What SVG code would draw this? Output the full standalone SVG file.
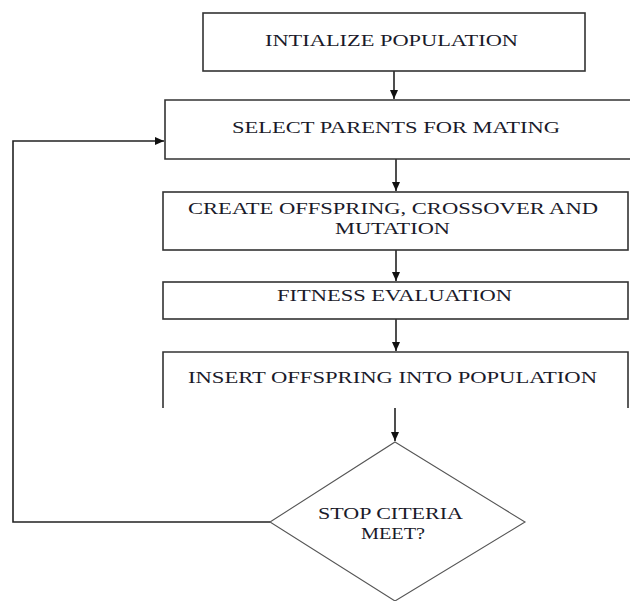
<svg xmlns="http://www.w3.org/2000/svg" width="630" height="601" viewBox="0 0 630 601">
<style>
.box{fill:#fff;stroke:#333;stroke-width:1.6}
.open{fill:none;stroke:#333;stroke-width:1.6}
.dia{fill:#fff;stroke:#555;stroke-width:1.1}
.lbl{font-family:"Liberation Serif","Times New Roman",serif;font-size:16px;fill:#1a1a2a}
.conn{fill:none;stroke:#222;stroke-width:1.6}
</style>
<defs>
<marker id="ah" markerWidth="9" markerHeight="8" refX="9" refY="4" orient="auto" markerUnits="userSpaceOnUse">
<path d="M0,0 L9,4 L0,8 Z" fill="#111"/>
</marker>
</defs>
<rect width="630" height="601" fill="#fff"/>
<g id="connectors">
<line class="conn" x1="394" y1="71" x2="394" y2="99" marker-end="url(#ah)"/>
<line class="conn" x1="396" y1="159" x2="396" y2="191" marker-end="url(#ah)"/>
<line class="conn" x1="396" y1="250" x2="396" y2="281" marker-end="url(#ah)"/>
<line class="conn" x1="396" y1="319" x2="396" y2="351" marker-end="url(#ah)"/>
<line class="conn" x1="395" y1="408" x2="395" y2="441" marker-end="url(#ah)"/>
<polyline class="conn" points="270,522 13,522 13,141 164,141" marker-end="url(#ah)"/>
</g>
<g id="init">
<rect class="box" x="203" y="13" width="382" height="58"/>
<text class="lbl" x="265" y="46" textLength="253" lengthAdjust="spacingAndGlyphs">INTIALIZE  POPULATION</text>
</g>
<g id="select">
<path class="open" d="M630,100 L165,100 L165,159 L630,159" style="fill:#fff"/>
<text class="lbl" x="232" y="133" textLength="328" lengthAdjust="spacingAndGlyphs">SELECT PARENTS  FOR MATING</text>
</g>
<g id="create">
<rect class="box" x="163" y="192" width="465" height="58"/>
<text class="lbl" x="188" y="214" textLength="410" lengthAdjust="spacingAndGlyphs">CREATE  OFFSPRING,  CROSSOVER  AND</text>
<text class="lbl" x="335" y="234" textLength="115" lengthAdjust="spacingAndGlyphs">MUTATION</text>
</g>
<g id="fitness">
<rect class="box" x="163" y="282" width="465" height="37"/>
<text class="lbl" x="277" y="301" textLength="235" lengthAdjust="spacingAndGlyphs">FITNESS EVALUATION</text>
</g>
<g id="insert">
<path class="open" d="M163,408 L163,352 L628,352 L628,408" style="fill:#fff"/>
<text class="lbl" x="188" y="383" textLength="409" lengthAdjust="spacingAndGlyphs">INSERT OFFSPRING INTO POPULATION</text>
</g>
<g id="stop">
<polygon class="dia" points="395,442 525,522 395,601 270,522"/>
<text class="lbl" x="318" y="519" textLength="145" lengthAdjust="spacingAndGlyphs">STOP CITERIA</text>
<text class="lbl" x="361" y="539" textLength="64" lengthAdjust="spacingAndGlyphs">MEET?</text>
</g>
</svg>
